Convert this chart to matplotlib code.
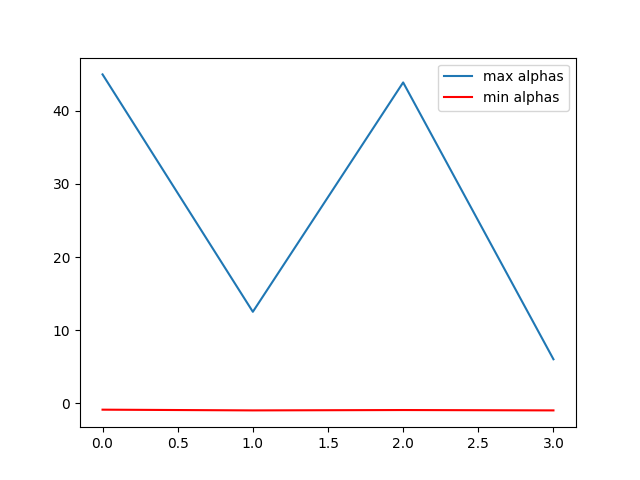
import matplotlib
matplotlib.use("Agg")
import matplotlib.pyplot as plt

x = [0, 1, 2, 3]
max_alphas = [45.0, 12.5, 43.9, 6.0]
min_alphas = [-0.9, -1.0, -0.95, -1.0]

fig, ax = plt.subplots(figsize=(6.4, 4.8), dpi=100)
ax.plot(x, max_alphas, label="max alphas")
ax.plot(x, min_alphas, color="red", label="min alphas")
ax.legend()
fig.savefig("out.png")
